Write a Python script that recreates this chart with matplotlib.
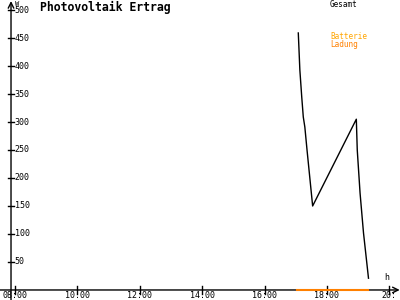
import matplotlib
matplotlib.use("Agg")
import matplotlib.pyplot as plt

# Gesamt (W) over time of day (hours)
gesamt_h = [17.08, 17.13, 17.19, 17.24, 17.29, 17.36, 17.45, 17.54, 18.94, 18.97, 19.06, 19.17, 19.33]
gesamt_w = [459, 393, 345, 309, 291, 250, 200, 150, 305, 250, 173, 102, 21]

# Ladung (W)
ladung_h = [17.05, 19.33]
ladung_w = [0, 0]

x_ticks = [8, 10, 12, 14, 16, 18, 20]
x_labels = ["08:00", "10:00", "12:00", "14:00", "16:00", "18:00", "20:"]
y_ticks = [50, 100, 150, 200, 250, 300, 350, 400, 450, 500]

mono = "DejaVu Sans Mono"

fig = plt.figure(figsize=(4, 3), dpi=100)
ax = fig.add_axes([0, 0, 1, 1])
ax.set_xlim(7.519, 20.34)
ax.set_ylim(-17.9, 517.9)
ax.axis("off")

x0 = 7.872  # y-axis position
# axes with arrows
ax.annotate("", xy=(x0, 516), xytext=(x0, -17.9),
            arrowprops=dict(arrowstyle="->", color="black", lw=1.0, shrinkA=0, shrinkB=0))
ax.annotate("", xy=(20.33, 0), xytext=(7.519, 0),
            arrowprops=dict(arrowstyle="->", color="black", lw=1.0, shrinkA=0, shrinkB=0))

dx = 0.1
dy = 7
for t in y_ticks:
    ax.plot([x0 - dx, x0 + dx], [t, t], color="black", lw=1.0)
    ax.text(x0 + 0.12, t, str(t), family=mono, fontsize=6, ha="left", va="center")
for t, lab in zip(x_ticks, x_labels):
    ax.plot([t, t], [-dy, dy], color="black", lw=1.0)
    ax.text(t, -10, lab, family=mono, fontsize=6, ha="center", va="center")

ax.text(x0 + 0.12, 510, "W", family=mono, fontsize=5, ha="left", va="center")
ax.text(19.9, 22, "h", family=mono, fontsize=6, ha="center", va="center")

ax.plot(ladung_h, ladung_w, color="#ff8000", lw=1.5, zorder=5)
ax.plot(gesamt_h, gesamt_w, color="black", lw=1.0)

ax.text(8.8, 504, "Photovoltaik Ertrag", family=mono, fontsize=8.3,
        fontweight="bold", ha="left", va="center")
ax.text(18.1, 510, "Gesamt", family=mono, fontsize=5.5, ha="left", va="center", color="black")
ax.text(18.1, 453, "Batterie", family=mono, fontsize=5.5, ha="left", va="center", color="#ffa500")
ax.text(18.1, 439, "Ladung", family=mono, fontsize=5.5, ha="left", va="center", color="#ff8000")

fig.savefig("out.png", dpi=100, facecolor="white")
